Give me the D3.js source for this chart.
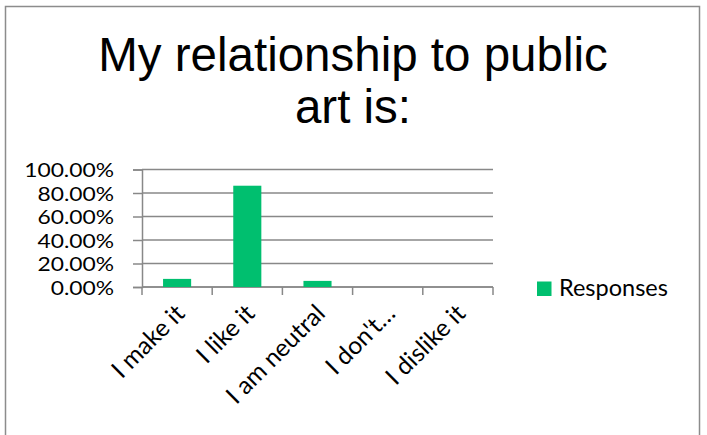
<!DOCTYPE html>
<html>
<head>
<meta charset="utf-8">
<script src="https://cdn.jsdelivr.net/npm/d3@7"></script>
<style>
  html, body { margin: 0; padding: 0; background: #fff; }
  svg { display: block; }
</style>
</head>
<body>
<svg id="chart" width="707" height="435"></svg>
<script>
// Survey answers and their share of responses
const categories = ["I make it", "I like it", "I am neutral", "I don't\u2026", "I dislike it"];
const responses = [0.069, 0.862, 0.052, 0, 0];
const yTicks = [0, 0.2, 0.4, 0.6, 0.8, 1.0];
const titleLines = ["My relationship to public", "art is:"];
const seriesName = "Responses";

const green = "#00bf6f";
const gridColor = "#888888";
const labelFont = "Lato, 'Open Sans', sans-serif";

const svg = d3.select("#chart");

// chart frame
svg.append("rect")
  .attr("x", 5.5).attr("y", 6.5)
  .attr("width", 694).attr("height", 440)
  .attr("fill", "#fff")
  .attr("stroke", "#8c8c8c").attr("stroke-width", 1.5);

// title
svg.append("g").selectAll("text")
  .data(titleLines)
  .join("text")
  .attr("x", 353)
  .attr("y", (d, i) => 71 + i * 51.5)
  .attr("text-anchor", "middle")
  .attr("font-family", "'Liberation Sans', Arial, sans-serif")
  .attr("font-size", 47.5)
  .attr("fill", "#000")
  .text(d => d);

const plot = { left: 142, right: 493, top: 169.5, bottom: 287 };

const x = d3.scaleBand()
  .domain(categories)
  .range([plot.left, plot.right])
  .paddingInner(0.6)
  .paddingOuter(0.3);

const y = d3.scaleLinear()
  .domain([0, 1])
  .range([plot.bottom, plot.top]);

// horizontal gridlines
svg.append("g").selectAll("line")
  .data(yTicks)
  .join("line")
  .attr("x1", plot.left).attr("x2", plot.right)
  .attr("y1", d => y(d)).attr("y2", d => y(d))
  .attr("stroke", gridColor).attr("stroke-width", 1.5);

// y axis
const yLabelStretch = 1.17;
const yAxis = d3.axisLeft(y)
  .tickValues(yTicks)
  .tickSize(9)
  .tickPadding(18)
  .tickFormat(d => (d * 100).toFixed(2) + "%");

const gy = svg.append("g")
  .attr("transform", `translate(${plot.left},0)`)
  .call(yAxis);
gy.select(".domain").attr("stroke", gridColor).attr("stroke-width", 1.5);
gy.selectAll(".tick line").attr("stroke", gridColor).attr("stroke-width", 1.5);
gy.selectAll(".tick text")
  .attr("font-family", labelFont)
  .attr("font-size", 19.5)
  .attr("fill", "#000")
  .attr("x", -28 / yLabelStretch)
  .attr("dy", "0.36em")
  .attr("transform", `scale(${yLabelStretch},1)`);

// x axis: ticks at category boundaries
const boundaries = d3.range(categories.length + 1)
  .map(i => plot.left + i * (plot.right - plot.left) / categories.length);
const gx = svg.append("g");
gx.append("line")
  .attr("x1", plot.left).attr("x2", plot.right)
  .attr("y1", plot.bottom).attr("y2", plot.bottom)
  .attr("stroke", gridColor).attr("stroke-width", 1.5);
gx.selectAll("line.tk")
  .data(boundaries)
  .join("line")
  .attr("class", "tk")
  .attr("x1", d => d).attr("x2", d => d)
  .attr("y1", plot.bottom).attr("y2", plot.bottom + 8)
  .attr("stroke", gridColor).attr("stroke-width", 1.5);

// bars
svg.append("g").selectAll("rect")
  .data(categories.map((c, i) => ({ c, v: responses[i] })))
  .join("rect")
  .attr("x", d => x(d.c))
  .attr("width", x.bandwidth())
  .attr("y", d => y(d.v))
  .attr("height", d => plot.bottom - y(d.v))
  .attr("fill", green);

// rotated category labels
gx.selectAll("text")
  .data(categories)
  .join("text")
  .attr("transform", d => `translate(${x(d) + x.bandwidth() / 2 + 9},${plot.bottom + 28}) rotate(-45)`)
  .attr("text-anchor", "end")
  .attr("font-family", labelFont)
  .attr("font-size", 24.5)
  .attr("fill", "#000")
  .text(d => d);

// legend
const lg = svg.append("g");
lg.append("rect")
  .attr("x", 537).attr("y", 281.5)
  .attr("width", 14.5).attr("height", 14.5)
  .attr("fill", green);
lg.append("text")
  .attr("x", 559).attr("y", 296)
  .attr("font-family", labelFont)
  .attr("font-size", 23.5)
  .attr("fill", "#000")
  .text(seriesName);
</script>
</body>
</html>
